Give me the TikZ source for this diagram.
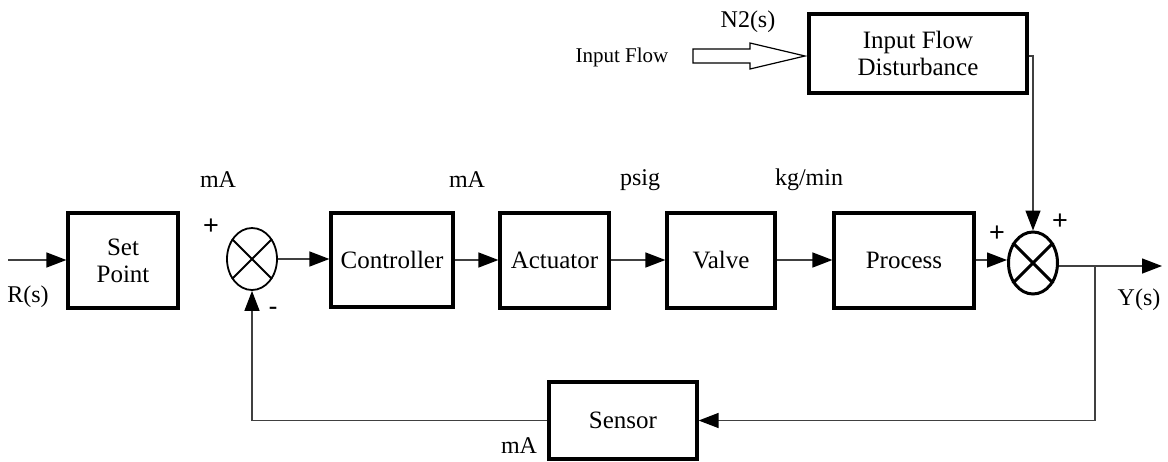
\documentclass[tikz,border=0pt]{standalone}
\usepackage{fontspec}
\setmainfont{Liberation Serif}
\newfontfamily\signfont{Liberation Sans}
\usetikzlibrary{shapes.geometric,arrows.meta}
\begin{document}
\begin{tikzpicture}[x=1pt,y=-1pt,
  blk/.style={draw,line width=3.2pt,inner sep=0pt,align=center,font=\fontsize{25}{27}\selectfont},
  sumj/.style={draw,ellipse,inner sep=0pt,minimum width=50pt,minimum height=62pt},
  lbl/.style={inner sep=0pt,font=\fontsize{24}{26}\selectfont},
  sgn/.style={inner sep=0pt,font=\signfont\fontsize{27}{29}\selectfont},
  conn/.style={line width=1.4pt,draw=black!75,-{Triangle[length=20pt,width=15pt,fill=black,color=black]}},
  plain/.style={line width=1.4pt,draw=black!75}]
\useasboundingbox (0,0) rectangle (1168,461);
% blocks
\node[blk,minimum width=110pt,minimum height=95pt] (sp) at (123,260.5) {Set\\Point};
\node[blk,minimum width=122pt,minimum height=94pt] (ctrl) at (392,260) {Controller};
\node[blk,minimum width=109pt,minimum height=95pt] (act) at (554.5,260.5) {Actuator};
\node[blk,minimum width=108pt,minimum height=95pt] (valve) at (721,260.5) {Valve};
\node[blk,minimum width=140pt,minimum height=95pt] (proc) at (904,260.5) {Process};
\node[blk,minimum width=218pt,minimum height=79pt] (dist) at (918,53.5) {Input Flow\\Disturbance};
\node[blk,minimum width=148pt,minimum height=77pt] (sens) at (623,420.5) {Sensor};
% summing junctions
\node[sumj,line width=1.8pt] (s1) at (252,259) {};
\draw[line width=1.8pt] (s1.45) -- (s1.225) (s1.135) -- (s1.315);
\node[sumj,line width=3pt,minimum width=49pt] (s2) at (1033,263) {};
\draw[line width=3pt] (s2.45) -- (s2.225) (s2.135) -- (s2.315);
% coordinates
\coordinate (in) at (8,260);
\coordinate (out) at (1162,266);
\coordinate (br) at (1095,266);
% connectors
\draw[conn] (in) -- (sp.west|-in);
\draw[conn] (s1.east) -- (ctrl.west|-s1.east);
\draw[conn] (ctrl.east|-0,260) -- (act.west|-0,260);
\draw[conn] (act.east|-0,260) -- (valve.west|-0,260);
\draw[conn] (valve.east|-0,260) -- (proc.west|-0,260);
\draw[conn] (proc.east|-0,260) -- (s2.west|-0,260);
\draw[conn] (dist.east|-0,56) -| (s2.north);
\draw[conn] (s2.east|-out) -- (out);
\draw[conn] (br) |- (sens.east);
\draw[conn] (sens.west) -| (s1.south);
% hollow arrow
\draw[line width=1.2pt] (693,49) -- (750,49) -- (750,43) -- (805,56) -- (750,69) -- (750,63) -- (693,63) -- cycle;
% labels
\node[lbl] (l1) at (218,180) {mA};
\node[lbl] (l2) at (467,180) {mA};
\node[lbl] (l3) at (640,180) {psig};
\node[lbl] (l4) at (809,180) {kg/min};
\node[lbl] (l5) at (519,446) {mA};
\node[lbl] (rs) at (28,297) {R(s)};
\node[lbl] (ys) at (1139,300) {Y(s)};
\node[lbl] (n2) at (748,22) {N2(s)};
\node[inner sep=0pt,font=\fontsize{21}{23}\selectfont] (ifl) at (622,57) {Input Flow};
\node[sgn] (p1) at (211,227) {+};
\node[sgn] (m1) at (273,311) {-};
\node[sgn] (p2) at (997,234) {+};
\node[sgn] (p3) at (1060,222) {+};
\end{tikzpicture}
\end{document}
